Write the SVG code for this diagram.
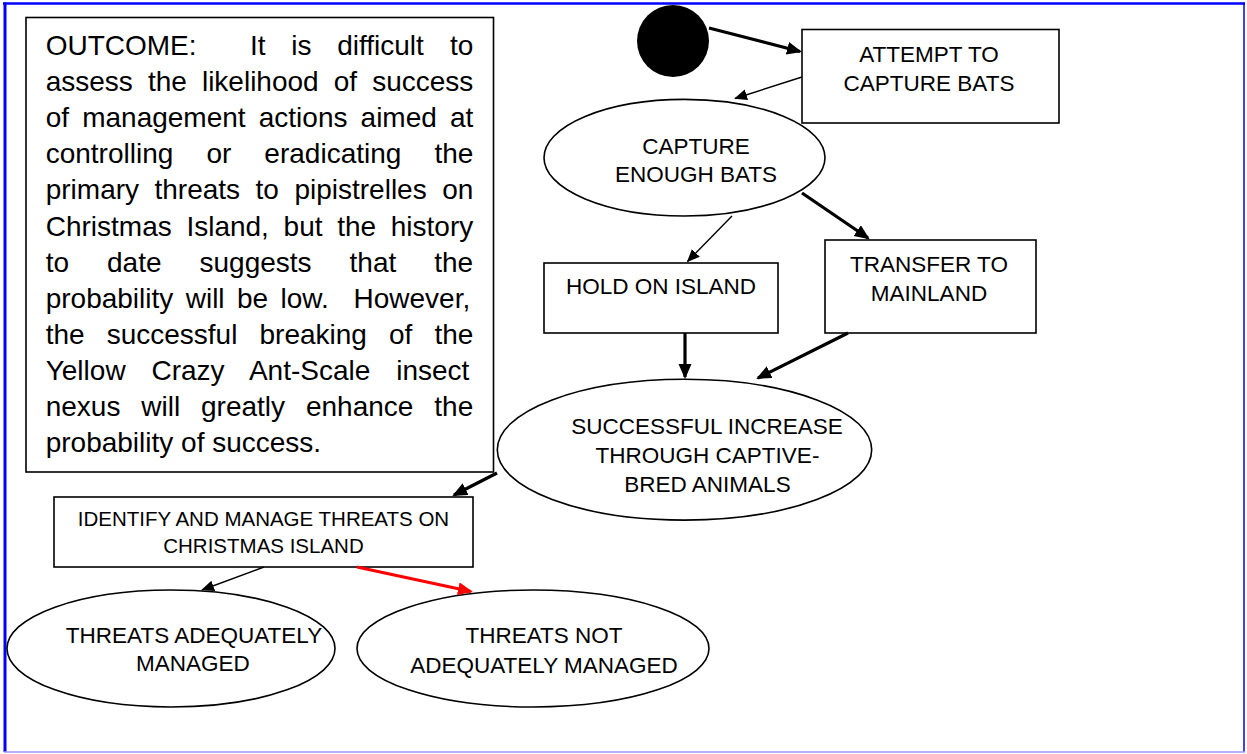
<svg xmlns="http://www.w3.org/2000/svg" width="1247" height="754" viewBox="0 0 1247 754">
<style>
text{font-family:"Liberation Sans",Arial,sans-serif;fill:#000}
.node{fill:#fff;stroke:#000;stroke-width:1.6}
.lbl{font-size:22.5px;text-anchor:middle}
.out{font-size:28px}
.thick{stroke:#000;stroke-width:3.2;fill:none;marker-end:url(#hk)}
.thin{stroke:#000;stroke-width:1.4;fill:none;marker-end:url(#hn)}
.red{stroke:#f00;stroke-width:3.2;fill:none;marker-end:url(#hr)}
</style>
<defs>
<marker id="hk" markerUnits="userSpaceOnUse" markerWidth="16" markerHeight="14" refX="13" refY="6.5" orient="auto"><path d="M0,0 L15,6.5 L0,13 z" fill="#000"/></marker>
<marker id="hn" markerUnits="userSpaceOnUse" markerWidth="14" markerHeight="12" refX="12" refY="5.5" orient="auto"><path d="M0,0 L13,5.5 L0,11 z" fill="#000"/></marker>
<marker id="hr" markerUnits="userSpaceOnUse" markerWidth="16" markerHeight="14" refX="13" refY="6.5" orient="auto"><path d="M0,0 L15,6.5 L0,13 z" fill="#f00"/></marker>
</defs>
<rect x="0" y="0" width="1247" height="754" fill="#fff"/>
<g id="frame">
<line x1="3" y1="3.5" x2="1245" y2="3.5" stroke="#0000ff" stroke-width="2.5"/>
<line x1="5" y1="2.5" x2="5" y2="752" stroke="#0000ff" stroke-width="3"/>
<line x1="1244" y1="2.5" x2="1244" y2="752" stroke="#0000ff" stroke-width="1.5"/>
<line x1="4" y1="752" x2="1245" y2="752" stroke="#9999ff" stroke-width="1.5"/>
</g>
<g id="outcome">
<rect class="node" x="26" y="17.5" width="467.5" height="454.5"/>
<text class="out" y="55"><tspan x="45.7">OUTCOME:</tspan><tspan x="250">It</tspan><tspan x="291.3">is</tspan><tspan x="337.2">difficult</tspan><tspan x="449.9">to</tspan></text>
<text class="out" x="45.7" y="91.1" word-spacing="7.3">assess the likelihood of success</text>
<text class="out" x="45.7" y="127.2" word-spacing="5.35">of management actions aimed at</text>
<text class="out" x="45.7" y="163.3" word-spacing="25.3">controlling or eradicating the</text>
<text class="out" x="45.7" y="199.4" word-spacing="7.7">primary threats to pipistrelles on</text>
<text class="out" x="45.7" y="235.5" word-spacing="6.9">Christmas Island, but the history</text>
<text class="out" x="45.7" y="271.6" word-spacing="30.2">to date suggests that the</text>
<text class="out" x="45.7" y="307.7" word-spacing="4.6" xml:space="preserve">probability will be low.  However,</text>
<text class="out" x="45.7" y="343.8" word-spacing="14.3">the successful breaking of the</text>
<text class="out" x="45.7" y="379.9" word-spacing="18.1">Yellow Crazy Ant-Scale insect</text>
<text class="out" x="45.7" y="416" word-spacing="13.1">nexus will greatly enhance the</text>
<text class="out" x="45.7" y="452.1">probability of success.</text>
</g>
<g id="start">
<circle cx="673" cy="41" r="36" fill="#000"/>
</g>
<g id="attempt">
<rect class="node" x="802" y="29.5" width="257" height="93.5"/>
<text class="lbl" x="929" y="62">ATTEMPT TO</text>
<text class="lbl" x="929" y="91">CAPTURE BATS</text>
</g>
<g id="capture">
<ellipse class="node" cx="684.5" cy="157.7" rx="140.5" ry="58.3"/>
<text class="lbl" x="696" y="154">CAPTURE</text>
<text class="lbl" x="696" y="182">ENOUGH BATS</text>
</g>
<g id="hold">
<rect class="node" x="544" y="263" width="234" height="70"/>
<text class="lbl" x="661" y="294">HOLD ON ISLAND</text>
</g>
<g id="transfer">
<rect class="node" x="825" y="240" width="211" height="93"/>
<text class="lbl" x="929" y="272">TRANSFER TO</text>
<text class="lbl" x="929" y="301">MAINLAND</text>
</g>
<g id="increase">
<ellipse class="node" cx="684.5" cy="449.7" rx="187.2" ry="70.4"/>
<text class="lbl" x="707" y="434">SUCCESSFUL INCREASE</text>
<text class="lbl" x="707.5" y="463">THROUGH CAPTIVE-</text>
<text class="lbl" x="707.5" y="492">BRED ANIMALS</text>
</g>
<g id="identify">
<rect class="node" x="54" y="497" width="419" height="70"/>
<text class="lbl" x="263.5" y="526" style="font-size:20.5px">IDENTIFY AND MANAGE THREATS ON</text>
<text class="lbl" x="263.5" y="553" style="font-size:20.5px">CHRISTMAS ISLAND</text>
</g>
<g id="adequate">
<ellipse class="node" cx="171" cy="648.5" rx="164" ry="58.5"/>
<text class="lbl" x="194" y="643">THREATS ADEQUATELY</text>
<text class="lbl" x="193" y="671">MANAGED</text>
</g>
<g id="notadequate">
<ellipse class="node" cx="533" cy="648.5" rx="176" ry="58.5"/>
<text class="lbl" x="544" y="643">THREATS NOT</text>
<text class="lbl" x="544" y="673">ADEQUATELY MANAGED</text>
</g>
<g id="connectors">
<line class="thick" x1="709" y1="28" x2="800" y2="51.5"/>
<line class="thin" x1="802" y1="77" x2="735" y2="98.5"/>
<line class="thin" x1="732" y1="216" x2="687.5" y2="261.5"/>
<line class="thick" x1="802" y1="193" x2="868" y2="238"/>
<line class="thick" x1="685" y1="333" x2="685" y2="377"/>
<line class="thick" x1="848" y1="333" x2="758" y2="378"/>
<line class="thick" x1="497" y1="473" x2="454" y2="495"/>
<line class="thin" x1="264" y1="567" x2="202" y2="590"/>
<line class="red" x1="357" y1="567" x2="471" y2="591.5"/>
</g>
</svg>
